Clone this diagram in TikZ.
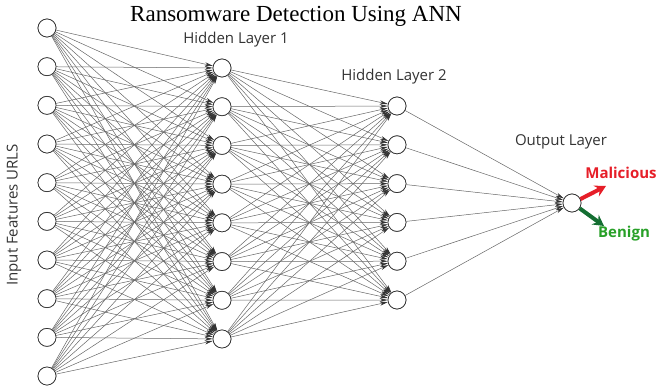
\documentclass[tikz,border=0pt]{standalone}
\usepackage{fontspec}
\setmainfont{Liberation Serif}
\newfontfamily\labelfont{Open Sans}
\usetikzlibrary{arrows.meta}
\definecolor{malred}{RGB}{230,30,40}
\definecolor{bengreen}{RGB}{20,110,50}
\definecolor{bentext}{RGB}{40,160,40}
\begin{document}
\begin{tikzpicture}[x=1pt,y=-1pt,
  neuron/.style={circle,draw=black!80,line width=0.7pt,fill=white,minimum size=18pt,inner sep=0pt},
  conn/.style={draw=black!60,line width=0.5pt,-{Stealth[length=8pt,width=3.8pt,color=black!80]}},
  lbl/.style={font=\labelfont\fontsize{15}{17}\selectfont,text=black!80,inner sep=0pt},
  outlbl/.style={font=\labelfont\bfseries\fontsize{15}{17}\selectfont,inner sep=0pt},
  outarrow/.style={line width=4pt,-{Stealth[length=11pt,width=12pt,inset=4pt]}}]
\useasboundingbox (0,0) rectangle (668,390);
% nodes
\foreach \i in {1,...,10} \node[neuron] (i\i) at (47,{28+(\i-1)*38.67}) {};
\foreach \j in {1,...,8} \node[neuron] (h\j) at (222,{68+(\j-1)*38.71}) {};
\foreach \k in {1,...,6} \node[neuron] (g\k) at (397,{106+(\k-1)*38.8}) {};
\node[neuron] (o) at (572,203) {};
% connections
\foreach \i in {1,...,10} \foreach \j in {1,...,8} \draw[conn] (i\i) -- (h\j);
\foreach \j in {1,...,8} \foreach \k in {1,...,6} \draw[conn] (h\j) -- (g\k);
\foreach \k in {1,...,6} \draw[conn] (g\k) -- (o);
% redraw nodes on top
\foreach \i in {1,...,10} \node[neuron] at (i\i) {};
\foreach \j in {1,...,8} \node[neuron] at (h\j) {};
\foreach \k in {1,...,6} \node[neuron] at (g\k) {};
\node[neuron] at (o) {};
% output arrows
\coordinate (mal) at (606,186);
\coordinate (ben) at (604,226);
\draw[outarrow,draw=malred,fill=malred] (o.25) -- (mal);
\draw[outarrow,draw=bengreen,fill=bengreen] (o.-35) -- (ben);
% labels
\node[font=\fontsize{23}{26}\selectfont,inner sep=0pt] (title) at (296,16) {Ransomware Detection Using ANN};
\node[lbl] (hl1) at (236,40) {Hidden Layer 1};
\node[lbl] (hl2) at (394,77) {Hidden Layer 2};
\node[lbl] (ol) at (561,142) {Output Layer};
\node[lbl,rotate=90] (inl) at (14,215) {Input Features URLS};
\node[outlbl,text=malred] (malt) at (621,173) {Malicious};
\node[outlbl,text=bentext] (bent) at (624,234) {Benign};
\end{tikzpicture}
\end{document}
